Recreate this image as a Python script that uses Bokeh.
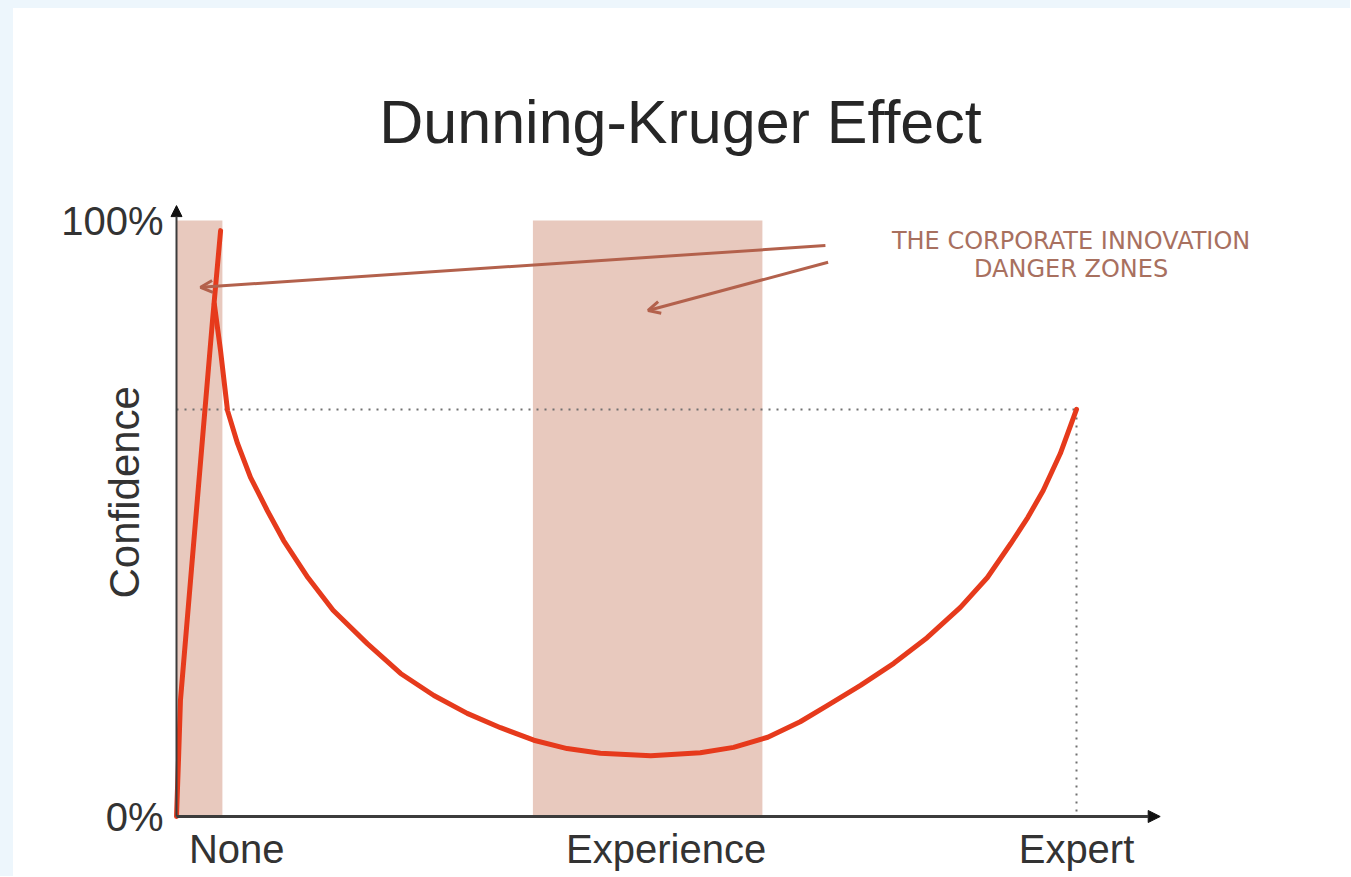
from bokeh.plotting import figure
from bokeh.models import Range1d, Arrow, NormalHead, OpenHead, Label
from bokeh.core.properties import value
from bokeh.embed import file_html
from bokeh.resources import INLINE

# ---------------- data ----------------
title_text = "Dunning-Kruger Effect"
y_label = "Confidence"
x_tick_values = [6.7, 54.4, 100]
x_tick_labels = ["None", "Experience", "Expert"]
y_tick_values = [0, 100]
y_tick_labels = ["0%", "100%"]

# steep initial rise
rise_x = [0, 0.22, 0.44, 1.67, 2.9, 4.0, 4.9]
rise_y = [0, 9.4, 19.5, 41.6, 63.6, 83.2, 98.3]

# decline into the valley and recovery to expert level
curve_x = [4.2, 4.89, 5.67, 6.78, 8.22, 10.1, 11.9, 14.6, 17.4, 21.2, 24.9, 28.6,
           32.3, 36.0, 39.7, 43.4, 47.1, 52.7, 58.2, 61.9, 65.7, 69.3, 72.3, 76.0,
           79.7, 83.4, 87.1, 90.1, 92.7, 94.6, 96.3, 98.2, 100]
curve_y = [86.0, 78.2, 68.1, 62.6, 56.9, 51.3, 46.3, 40.1, 34.6, 29.0, 24.0, 20.3,
           17.3, 14.9, 12.8, 11.4, 10.6, 10.2, 10.7, 11.6, 13.3, 15.9, 18.6, 22.0,
           25.7, 30.0, 35.1, 40.1, 45.8, 50.2, 54.7, 60.9, 68.3]

expert_x = 100
expert_conf = 68.3

# danger zones
zone_left = [0, 39.6]
zone_right = [5.1, 65.1]
zone_bottom = [0, 0]
zone_top = [100, 100]

annotation_lines = ["THE CORPORATE INNOVATION", "DANGER ZONES"]

# ---------------- layout (pixels) ----------------
W, H = 1350, 876
PX_X = 9.0    # pixels per x unit
PX_Y = 5.96   # pixels per y unit
ml, mr, mt, mb = 14, 10, 10, 4
origin_px_x = 176
origin_px_y = 816
frame_w = W - ml - mr
frame_h = H - mt - mb
x0 = (ml - origin_px_x) / PX_X
x1 = x0 + frame_w / PX_X
y0 = -((H - mb) - origin_px_y) / PX_Y
y1 = y0 + frame_h / PX_Y

p = figure(width=W, height=H, output_backend="svg", toolbar_location=None,
           x_range=Range1d(x0, x1), y_range=Range1d(y0, y1),
           min_border_left=ml, min_border_right=mr, min_border_top=mt, min_border_bottom=mb)
p.grid.visible = False
p.axis.visible = False
p.outline_line_color = None
p.background_fill_color = "#ffffff"
p.border_fill_color = None
p.styles = {"background": "linear-gradient(to bottom, #edf6fc 0px, #edf6fc 8px, rgba(255,255,255,0) 8px), "
                          "linear-gradient(to right, #edf6fc 0px, #edf6fc 13px, #ffffff 13px)"}

TXT = "#333333"
FONT = value("Liberation Sans")

# tick labels (drawn through the data scales)
p.text(x=x_tick_values, y=[-5.37] * len(x_tick_values), text=x_tick_labels,
       text_align="center", text_baseline="middle", text_font=FONT,
       text_font_size="40px", text_color=TXT)
p.text(x=[-1.44] * len(y_tick_values), y=y_tick_values, text=y_tick_labels,
       text_align="right", text_baseline="middle", text_font=FONT,
       text_font_size="40px", text_color=TXT)

# shaded danger zones
p.quad(left=zone_left, right=zone_right, bottom=zone_bottom, top=zone_top,
       fill_color="#e8c9be", line_color=None)

# dotted reference lines
p.line([0, expert_x], [expert_conf, expert_conf], line_color="#707070", line_width=2, line_dash="2 6")
p.line([expert_x, expert_x], [expert_conf, 0], line_color="#707070", line_width=2, line_dash="2 6")

# the curve
RED = "#e63a1c"
p.line(rise_x, rise_y, line_color=RED, line_width=5, line_join="round", line_cap="round")
p.line(curve_x, curve_y, line_color=RED, line_width=5, line_join="round", line_cap="round")

# axes with arrow heads
AX = "#3c3c3c"
p.add_layout(Arrow(end=NormalHead(size=12, fill_color="#111111", line_color="#111111"),
                   x_start=0, y_start=0, x_end=109.3, y_end=0, line_color=AX, line_width=3))
p.add_layout(Arrow(end=NormalHead(size=11, fill_color="#111111", line_color="#111111"),
                   x_start=0, y_start=0, x_end=0, y_end=102.5, line_color=AX, line_width=2))

# annotation arrows
BR = "#b3614c"
p.add_layout(Arrow(end=OpenHead(size=12, line_color=BR, line_width=3),
                   x_start=72.1, y_start=95.8, x_end=2.67, y_end=88.8, line_color=BR, line_width=3))
p.add_layout(Arrow(end=OpenHead(size=12, line_color=BR, line_width=3),
                   x_start=72.4, y_start=93.0, x_end=52.4, y_end=84.9, line_color=BR, line_width=3))

# texts
p.add_layout(Label(x=56.0, y=116.6, text=title_text, text_align="center", text_baseline="middle",
                   text_font="Liberation Sans", text_font_size="61px", text_color="#262626"))
p.add_layout(Label(x=-5.78, y=54.4, text=y_label, angle=1.5708, text_align="center", text_baseline="middle",
                   text_font="Liberation Sans", text_font_size="42px", text_color=TXT))
p.add_layout(Label(x=99.4, y=96.6, text=annotation_lines[0], text_align="center", text_baseline="middle",
                   text_font="DejaVu Sans", text_font_size="24px", text_color="#a8705f"))
p.add_layout(Label(x=99.4, y=91.9, text=annotation_lines[1], text_align="center", text_baseline="middle",
                   text_font="DejaVu Sans", text_font_size="24px", text_color="#a8705f"))

open("out.html", "w").write(file_html(p, INLINE))
